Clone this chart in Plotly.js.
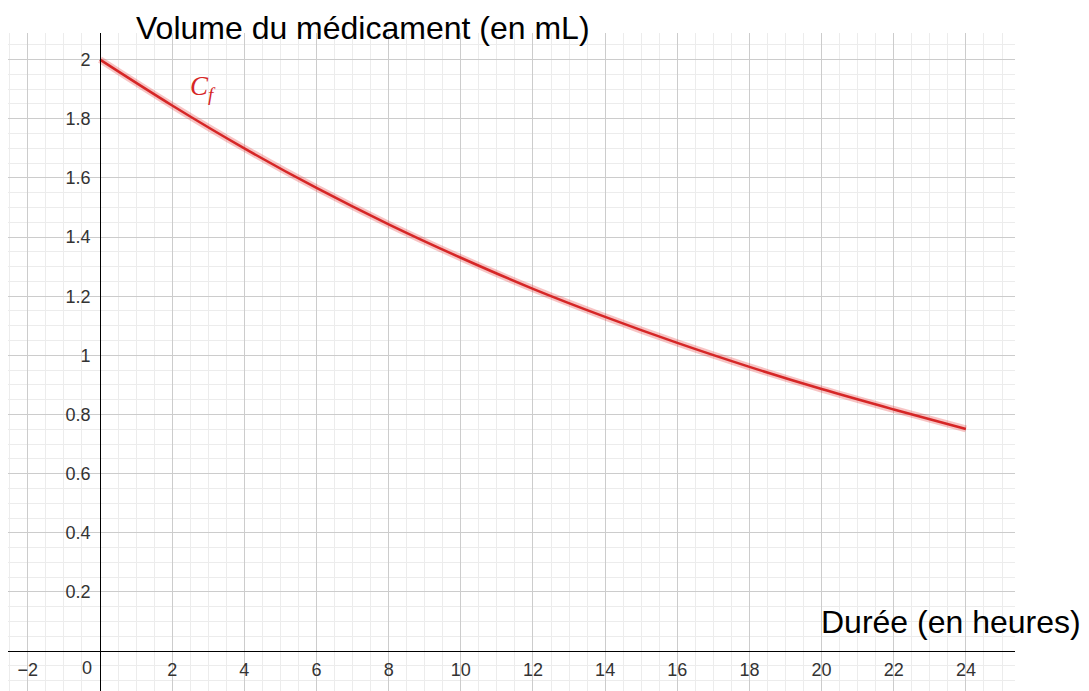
<!DOCTYPE html>
<html>
<head>
<meta charset="utf-8">
<script src="https://cdn.plot.ly/plotly-3.0.1.min.js"></script>
<style>html,body{margin:0;padding:0;background:#fff;}#chart{width:1089px;height:691px;}</style>
</head>
<body>
<div id="chart"></div>
<script>
const hours = [0, 2, 4, 6, 8, 10, 12, 14, 16, 18, 20, 22, 24];
const volume = [2, 1.845, 1.70, 1.566, 1.443, 1.33, 1.225, 1.13, 1.042, 0.961, 0.886, 0.817, 0.751];
const xTickVals = [-2, 2, 4, 6, 8, 10, 12, 14, 16, 18, 20, 22, 24];
const xTickText = ['\u22122', '2', '4', '6', '8', '10', '12', '14', '16', '18', '20', '22', '24'];
const yTickVals = [0.2, 0.4, 0.6, 0.8, 1, 1.2, 1.4, 1.6, 1.8, 2];
const yTickText = ['0.2', '0.4', '0.6', '0.8', '1', '1.2', '1.4', '1.6', '1.8', '2'];
const yTitle = 'Volume du médicament (en mL)';
const xTitle = 'Durée (en heures)';
const curveName = '<i>C</i><sub><i>f</i></sub>';

const traces = [
  {x: hours, y: volume, mode: 'lines', line: {shape: 'spline', smoothing: 1, color: 'rgba(230,60,60,0.3)', width: 7}, hoverinfo: 'skip', showlegend: false},
  {x: hours, y: volume, mode: 'lines', line: {shape: 'spline', smoothing: 1, color: 'rgb(214,38,38)', width: 2.5}, showlegend: false}
];

const tickFont = {family: 'Liberation Sans, Arial, sans-serif', size: 18, color: '#333'};
const layout = {
  width: 1089, height: 691,
  margin: {l: 8, r: 74, t: 33, b: 0},
  paper_bgcolor: '#fff', plot_bgcolor: '#fff',
  showlegend: false,
  xaxis: {
    range: [-2.55, 25.36], anchor: 'free', position: 0.0608,
    showline: true, linecolor: '#000', linewidth: 1.2,
    showgrid: true, gridcolor: '#cccccc', gridwidth: 1,
    zeroline: false, ticks: '',
    tickmode: 'array', tickvals: xTickVals, ticktext: xTickText,
    tickfont: tickFont, ticklabelstandoff: 2,
    minor: {tickmode: 'linear', tick0: 0, dtick: 0.5, showgrid: true, gridcolor: '#ececec', gridwidth: 1}
  },
  yaxis: {
    range: [-0.135, 2.09], anchor: 'free', position: 0.0914,
    showline: true, linecolor: '#000', linewidth: 1.2,
    showgrid: true, gridcolor: '#cccccc', gridwidth: 1,
    zeroline: false, ticks: '',
    tickmode: 'array', tickvals: yTickVals, ticktext: yTickText,
    tickfont: tickFont, ticklabelstandoff: 6,
    minor: {tickmode: 'linear', tick0: 0, dtick: 0.05, showgrid: true, gridcolor: '#ececec', gridwidth: 1}
  },
  annotations: [
    {text: yTitle, xref: 'paper', yref: 'paper', x: 0.3525, y: 1.0076, xanchor: 'center', yanchor: 'middle', showarrow: false,
     font: {family: 'Liberation Sans, Arial, sans-serif', size: 32, color: '#000'}},
    {text: xTitle, xref: 'paper', yref: 'paper', x: 0.936, y: 0.105, xanchor: 'center', yanchor: 'middle', showarrow: false,
     font: {family: 'Liberation Sans, Arial, sans-serif', size: 32, color: '#000'}},
    {text: curveName, xref: 'x', yref: 'y', x: 2.85, y: 1.905, xanchor: 'center', yanchor: 'middle', showarrow: false,
     font: {family: 'Liberation Serif, DejaVu Serif, serif', size: 27, color: 'rgb(214,38,38)'}},
    {text: '0', xref: 'x', yref: 'y', x: -0.36, y: -0.058, xanchor: 'center', yanchor: 'middle', showarrow: false,
     font: tickFont}
  ]
};
Plotly.newPlot('chart', traces, layout, {displayModeBar: false, staticPlot: true});
</script>
</body>
</html>
